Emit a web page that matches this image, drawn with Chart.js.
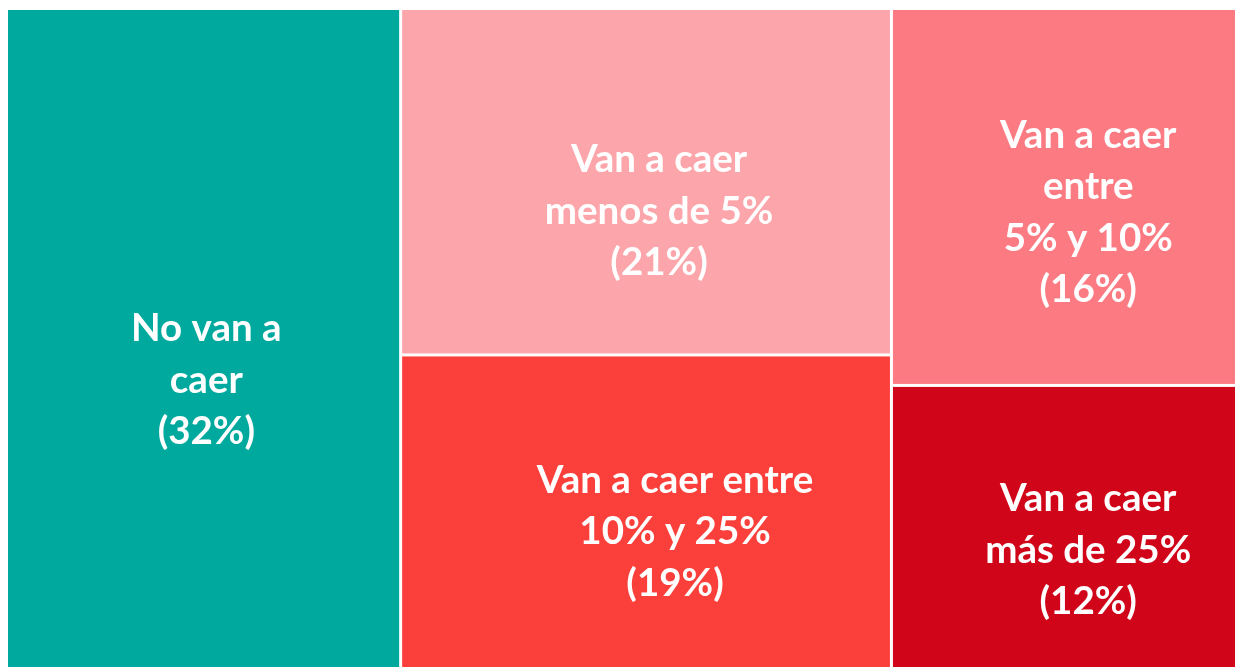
<!DOCTYPE html>
<html>
<head>
<meta charset="utf-8">
<script src="https://cdn.jsdelivr.net/npm/chart.js@4.4.1/dist/chart.umd.min.js"></script>
<style>
html,body{margin:0;padding:0;background:#ffffff;}
#wrap{width:1235px;height:667px;position:relative;}
</style>
</head>
<body>
<div id="wrap"><canvas id="c" width="1235" height="667"></canvas></div>
<script>
// ---- data ----
const categories = ["No van a caer", "Van a caer menos de 5%", "Van a caer entre 10% y 25%", "Van a caer entre 5% y 10%", "Van a caer más de 25%"];
const values = [32, 21, 19, 16, 12];
const columnGroup = [0, 1, 1, 2, 2];
const labelLines = [
  ["No van a", "caer"],
  ["Van a caer", "menos de 5%"],
  ["Van a caer entre", "10% y 25%"],
  ["Van a caer", "entre", "5% y 10%"],
  ["Van a caer", "más de 25%"]
];

// ---- styles ----
const colors = ["#00A99D", "#FCA6AB", "#FB3F3A", "#FC7B83", "#D0051A"];
const labelShift = [[2, 42], [13, 29], [29, 21], [25, 15], [25, 24]];

const treemapPlugin = {
  id: "treemap",
  afterDatasetsDraw(chart) {
    const ctx = chart.ctx;
    const xs = chart.scales.x, ys = chart.scales.y;
    const total = values.reduce((a, b) => a + b, 0);
    const nGroups = Math.max(...columnGroup) + 1;
    const groupSum = new Array(nGroups).fill(0);
    values.forEach((v, i) => groupSum[columnGroup[i]] += v);
    const groupStart = [];
    let acc = 0;
    for (let g = 0; g < nGroups; g++) { groupStart.push(acc / total * 100); acc += groupSum[g]; }
    const yAcc = new Array(nGroups).fill(0);
    const gap = 1.5;
    const eps = 1e-6;
    ctx.save();
    values.forEach((v, i) => {
      const g = columnGroup[i];
      const x0 = groupStart[g];
      const x1 = x0 + groupSum[g] / total * 100;
      const y0 = yAcc[g] / groupSum[g] * 100;
      yAcc[g] += v;
      const y1 = yAcc[g] / groupSum[g] * 100;
      let px0 = xs.getPixelForValue(x0), px1 = xs.getPixelForValue(x1);
      let py0 = ys.getPixelForValue(y0), py1 = ys.getPixelForValue(y1);
      const cx = (px0 + px1) / 2 + labelShift[i][0];
      const cy = (py0 + py1) / 2 + labelShift[i][1];
      if (x0 > eps) px0 += gap;
      if (x1 < 100 - eps) px1 -= gap;
      if (y0 > eps) py0 += gap;
      if (y1 < 100 - eps) py1 -= gap;
      ctx.fillStyle = colors[i];
      ctx.fillRect(px0, py0, px1 - px0, py1 - py0);
      const lines = labelLines[i].concat(["(" + v + "%)"]);
      const lh = 51.5;
      ctx.fillStyle = "#ffffff";
      ctx.font = "bold 38.5px Lato";
      ctx.textAlign = "center";
      ctx.textBaseline = "middle";
      lines.forEach((t, k) => {
        ctx.fillText(t, cx, cy + (k - (lines.length - 1) / 2) * lh);
      });
    });
    ctx.restore();
  }
};

new Chart(document.getElementById("c"), {
  type: "scatter",
  data: { labels: categories, datasets: [{ data: [], pointRadius: 0 }] },
  options: {
    responsive: false,
    animation: false,
    layout: { padding: { left: 8, top: 10, right: 0, bottom: 0 } },
    plugins: { legend: { display: false }, tooltip: { enabled: false } },
    scales: {
      x: { type: "linear", min: 0, max: 100, display: false },
      y: { type: "linear", min: 0, max: 100, reverse: true, display: false }
    }
  },
  plugins: [treemapPlugin]
});
</script>
</body>
</html>
